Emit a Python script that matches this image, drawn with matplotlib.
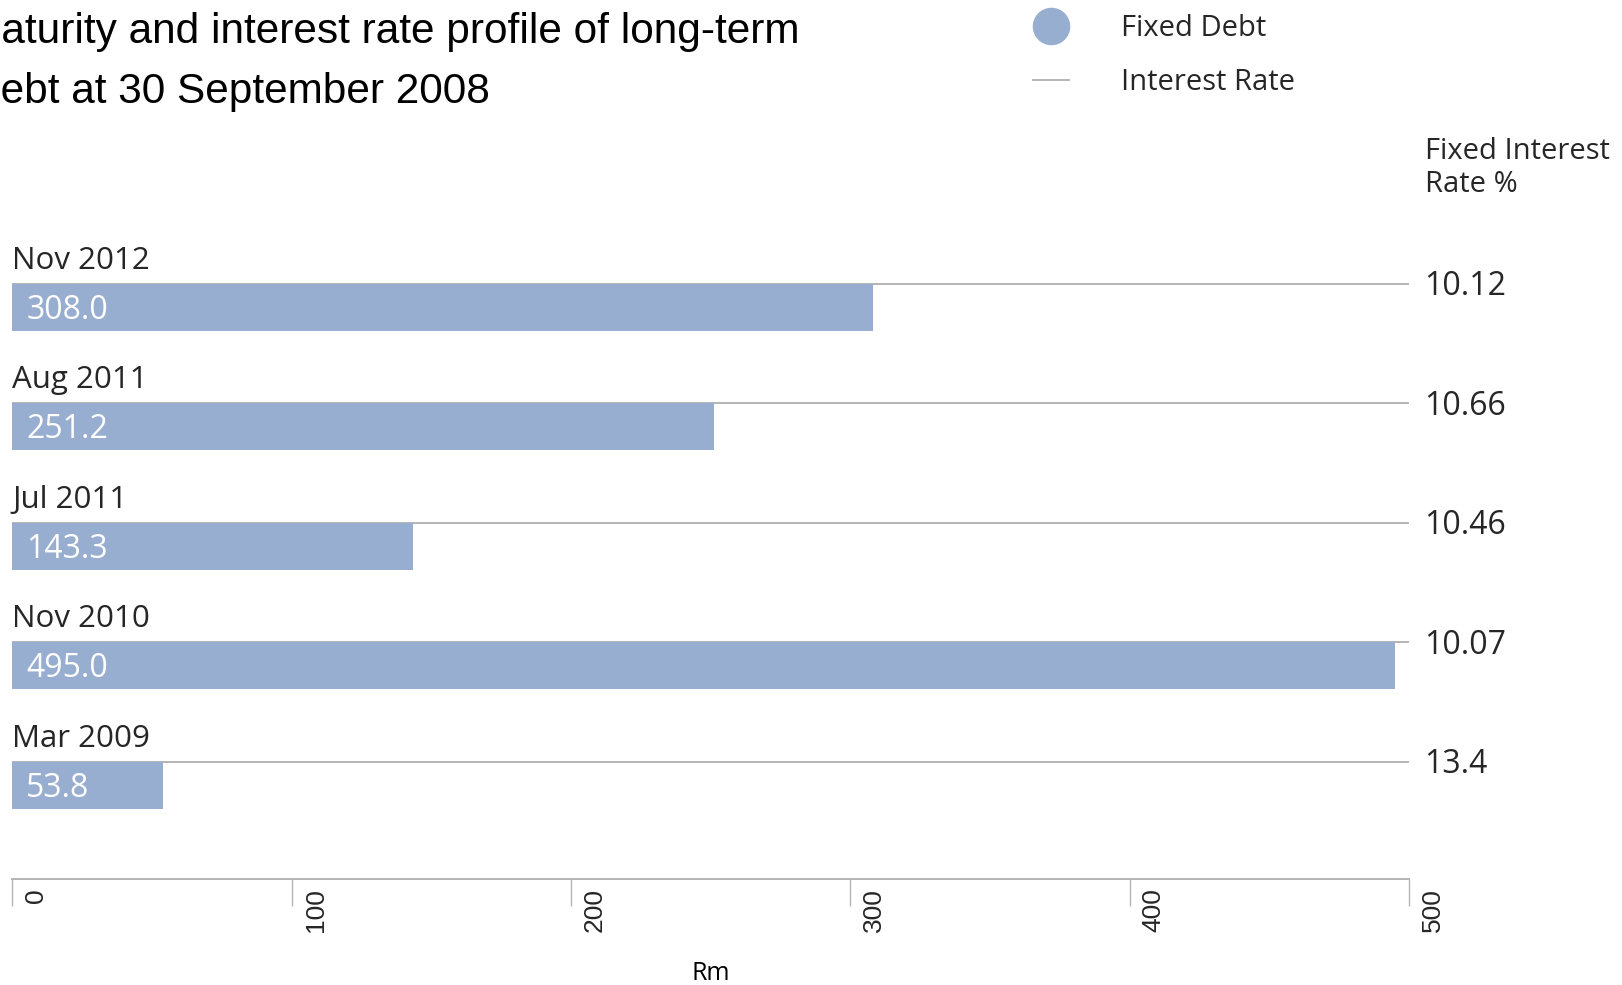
import numpy as np
import matplotlib
matplotlib.use('Agg')
import matplotlib.pyplot as plt
from matplotlib.lines import Line2D
from matplotlib.transforms import ScaledTranslation

# fixed long-term debt by maturity date (Rm) and its fixed interest rate (%)
maturities=['Mar 2009','Nov 2010','Jul 2011','Aug 2011','Nov 2012']
fixed_debt=[53.8,495.0,143.3,251.2,308.0]
interest_rate=[13.4,10.07,10.46,10.66,10.12]
xticks=[0,100,200,300,400,500]

barcol='#98aed0'
linecol='#b4b4b4'
txtcol='#262626'

plt.rcParams['font.family']=['Open Sans','DejaVu Sans']
plt.rcParams['text.color']=txtcol

W,H=1622,985
fig=plt.figure(figsize=(W/100,H/100),dpi=100)
ax=fig.add_axes([12.4/W,1-879/H,1396.6/W,639/H])

y=np.arange(len(maturities))
ax.hlines(y,0,500,color=linecol,lw=1.4,zorder=1)
ax.barh(y,fixed_debt,height=-0.395,align='edge',color=barcol,zorder=2)

for i in range(len(maturities)):
    ax.text(0,y[i]+0.19,maturities[i],ha='left',va='center',fontsize=22.5)
    ax.annotate('%.1f'%fixed_debt[i],xy=(0,y[i]-0.225),xytext=(14,0),textcoords='offset pixels',
                ha='left',va='center',fontsize=23,color='white',zorder=3)
    ax.annotate('%g'%interest_rate[i],xy=(500,y[i]),xytext=(15,-3),textcoords='offset pixels',
                ha='left',va='center',fontsize=23,annotation_clip=False)

ax.set_xlim(0,500)
ax.set_ylim(-0.983,4.364)
for s in ['top','left','right']:
    ax.spines[s].set_visible(False)
ax.spines['bottom'].set_color(linecol)
ax.spines['bottom'].set_linewidth(1.4)
ax.set_yticks([])
ax.set_xticks(xticks)
ax.set_xticklabels([str(t) for t in xticks],rotation=90,ha='left',va='top',
                   fontsize=19,family='Liberation Sans')
ax.tick_params(axis='x',direction='out',length=19.4,width=1,color=linecol,pad=0,labelcolor=txtcol)
# pull tick labels up beside the tick marks
shift=ScaledTranslation(12/100,18/100,fig.dpi_scale_trans)
for lab in ax.get_xticklabels():
    lab.set_transform(lab.get_transform()+shift)

ax.set_xlabel('Rm',fontsize=18,va='center')
ax.xaxis.set_label_coords(0.5,(879-973)/639)

# title (runs off the left edge)
fig.text(-34.5/W,1-43/H,'Maturity and interest rate profile of long-term',family='Liberation Sans',
         fontsize=30.5,color='black',ha='left',va='baseline')
fig.text(-22.6/W,1-103/H,'debt at 30 September 2008',family='Liberation Sans',
         fontsize=30.5,color='black',ha='left',va='baseline')

fig.text(1425/W,1-137/H,'Fixed Interest\nRate %',fontsize=21,ha='left',va='top',linespacing=1.16)

handles=[Line2D([],[],marker='o',ls='none',ms=26,color=barcol),
         Line2D([],[],color=linecol,lw=1.4)]
fig.legend(handles,['Fixed Debt','Interest Rate'],loc='upper left',bbox_to_anchor=(1033/W,1-14/H),
           frameon=False,fontsize=21,handlelength=1.23,handletextpad=1.8,labelspacing=0.85,
           borderpad=0,borderaxespad=0)

fig.savefig('out.png',dpi=100)
